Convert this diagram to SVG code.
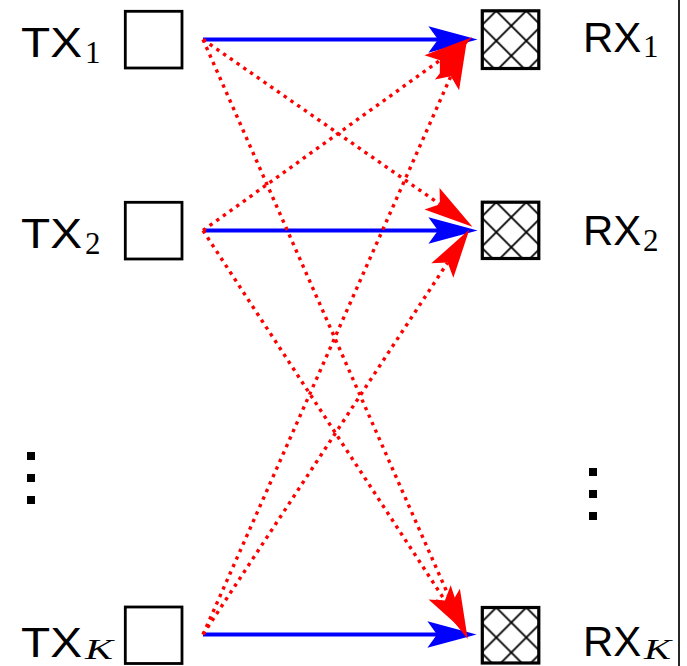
<svg xmlns="http://www.w3.org/2000/svg" width="687" height="666" viewBox="0 0 687 666">
<style>
.box{fill:#fff;stroke:#000;stroke-width:2.8}
.rbox{fill:url(#hatch);stroke:#000;stroke-width:3.2}
.lbl{font-family:"Liberation Sans",Arial,sans-serif;font-size:42px;fill:#000}
.sub{font-family:"Liberation Serif","Times New Roman",serif;font-size:31px;fill:#000}
.subi{font-family:"Liberation Serif","Times New Roman",serif;font-size:29px;font-style:italic;fill:#000}
.blue{stroke:#0000ff;stroke-width:4;fill:none;marker-end:url(#ab)}
.red{stroke:#ff0000;stroke-width:3.4;fill:none;stroke-dasharray:3.4 4.8;marker-end:url(#ar)}
</style>
<defs>
<pattern id="hatch" patternUnits="userSpaceOnUse" x="-1" y="-15" width="30" height="30">
<rect width="30" height="30" fill="#fff"/>
<path d="M0,0 L30,30 M30,0 L0,30 M-1,29 L1,31 M29,-1 L31,1 M-1,1 L1,-1 M29,31 L31,29" stroke="#000" stroke-width="1.8"/>
</pattern>
<marker id="ab" markerUnits="userSpaceOnUse" orient="auto" refX="0" refY="0" markerWidth="60" markerHeight="40" viewBox="-10 -15 50 30" overflow="visible">
<path d="M33,0 L-8,-11 L0,0 L-8,11 Z" fill="#0000ff"/>
</marker>
<marker id="ar" markerUnits="userSpaceOnUse" orient="auto" refX="0" refY="0" markerWidth="60" markerHeight="40" viewBox="-10 -15 50 30" overflow="visible">
<path d="M33,0 L-8,-11 L0,0 L-8,11 Z" fill="#ff0000"/>
</marker>
</defs>

<g id="TX1">
<rect class="box" x="125.3" y="11.3" width="56.7" height="56.7"/>
<text class="lbl" x="21" y="57" textLength="61" lengthAdjust="spacingAndGlyphs">TX</text>
<text class="sub" x="85" y="63">1</text>
</g>
<g id="TX2">
<rect class="box" x="125.3" y="202.3" width="56.7" height="56.7"/>
<text class="lbl" x="21" y="248" textLength="61" lengthAdjust="spacingAndGlyphs">TX</text>
<text class="sub" x="85" y="254">2</text>
</g>
<g id="TXK">
<rect class="box" x="125.3" y="607" width="56.7" height="56.5"/>
<text class="lbl" x="21" y="657" textLength="61" lengthAdjust="spacingAndGlyphs">TX</text>
<text class="subi" x="85" y="659" textLength="28" lengthAdjust="spacingAndGlyphs">K</text>
</g>

<g id="RX1" transform="translate(482.3,10.8)">
<rect class="rbox" x="0" y="0" width="56.5" height="57.7"/>
</g>
<g id="RX1-label">
<text class="lbl" x="583" y="52">RX</text>
<text class="sub" x="643" y="57">1</text>
</g>
<g id="RX2" transform="translate(482.3,202.2)">
<rect class="rbox" x="0" y="0" width="56.5" height="56.3"/>
</g>
<g id="RX2-label">
<text class="lbl" x="583" y="245">RX</text>
<text class="sub" x="643" y="251">2</text>
</g>
<g id="RXK" transform="translate(482.3,607.5)">
<rect class="rbox" x="0" y="0" width="56.5" height="55.5"/>
</g>
<g id="RXK-label">
<text class="lbl" x="583" y="656">RX</text>
<text class="subi" x="644" y="659" textLength="27" lengthAdjust="spacingAndGlyphs">K</text>
</g>

<g id="dots">
<rect x="27" y="452" width="8" height="8"/>
<rect x="27" y="474" width="8" height="8"/>
<rect x="27" y="496" width="8" height="8"/>
<rect x="589" y="468" width="8" height="8"/>
<rect x="589" y="490" width="8" height="8"/>
<rect x="589" y="512" width="8" height="8"/>
</g>

<line x1="679" y1="0" x2="679" y2="666" stroke="#000" stroke-width="1.7"/>

<g id="connectors">
<line class="blue" x1="203" y1="39.5" x2="438" y2="39.5"/>
<line class="blue" x1="203" y1="230.5" x2="438" y2="230.5"/>
<line class="blue" x1="203" y1="634.5" x2="437" y2="634.5"/>
<line class="red" x1="203" y1="39.5" x2="439.9" y2="204.2"/>
<line class="red" x1="203" y1="634.5" x2="447.6" y2="262.6"/>
<line class="red" x1="203" y1="230.5" x2="439.9" y2="60.3"/>
<line class="red" x1="203" y1="634.5" x2="450.9" y2="76.2"/>
<line class="red" x1="203" y1="39.5" x2="451.7" y2="602.8"/>
<line class="red" x1="203" y1="230.5" x2="444.9" y2="600.4"/>
</g>
</svg>
